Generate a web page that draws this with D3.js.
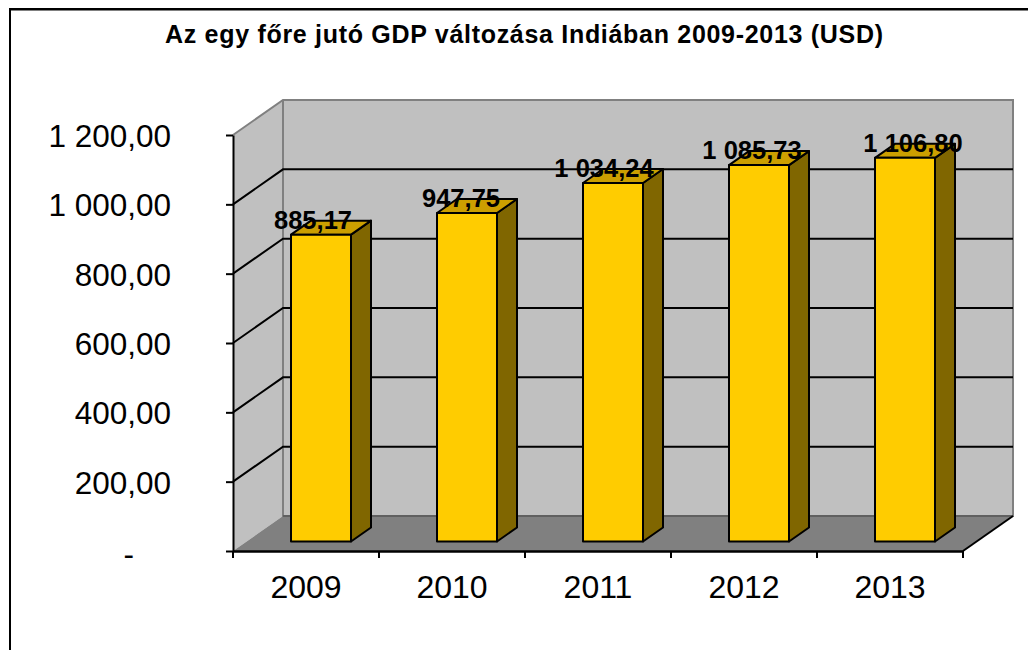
<!DOCTYPE html>
<html>
<head>
<meta charset="utf-8">
<script src="https://cdn.jsdelivr.net/npm/d3@7"></script>
<style>
  html, body { margin: 0; padding: 0; background: #fff; }
  svg { display: block; }
  text { font-family: "Liberation Sans", Arial, sans-serif; fill: #000; }
</style>
</head>
<body>
<svg id="drawing_region" width="1028" height="650"></svg>
<script>
const years = ["2009", "2010", "2011", "2012", "2013"];
const gdp = [885.17, 947.75, 1034.24, 1085.73, 1106.80];
const gdpLabels = ["885,17", "947,75", "1 034,24", "1 085,73", "1 106,80"];
const yTicks = [0, 200, 400, 600, 800, 1000, 1200];
const yTickLabels = ["-", "200,00", "400,00", "600,00", "800,00", "1 000,00", "1 200,00"];
const title = "Az egy főre jutó GDP változása Indiában 2009-2013 (USD)";

// excel puts the data labels a bit off centre, so nudge them by hand
const labelNudge = [-8, -6, -9, -7, 8];

const svg = d3.select("#drawing_region");

const x0 = 233, x1 = 963, y0 = 551, y1 = 135;
const depth = {x: 50, y: -35};
const barDepth = {x: 20, y: -14};
const barShift = {x: 15, y: -9.5};

const xscale = d3.scaleBand().domain(years).range([x0, x1]);
const yscale = d3.scaleLinear().domain([0, 1200]).range([y0, y1]);
const barWidth = 60;
const barX = d => xscale(d) + (xscale.bandwidth() - barWidth) / 2 + barShift.x;
const barY = v => yscale(v) + barShift.y;

const poly = pts => pts.map(p => p.join(",")).join(" ");

// chart frame, the right side is cut off in the original
svg.append("path")
  .attr("d", "M10,650V9H1028")
  .attr("fill", "none").attr("stroke", "#000").attr("stroke-width", 2);
svg.append("line")
  .attr("x1", 11).attr("x2", 1028).attr("y1", 10.5).attr("y2", 10.5)
  .attr("stroke", "#808080").attr("stroke-width", 1);

svg.append("text")
  .attr("x", 524).attr("y", 43)
  .attr("text-anchor", "middle")
  .attr("font-size", 25).attr("font-weight", "bold")
  .attr("textLength", 718).attr("lengthAdjust", "spacing")
  .text(title);

// walls and floor
const walls = svg.append("g");
walls.append("polygon")
  .attr("points", poly([[x0, y0], [x0, y1], [x0 + depth.x, y1 + depth.y], [x0 + depth.x, y0 + depth.y]]))
  .attr("fill", "#c0c0c0");
walls.append("polygon")
  .attr("points", poly([[x0 + depth.x, y1 + depth.y], [x1 + depth.x, y1 + depth.y], [x1 + depth.x, y0 + depth.y], [x0 + depth.x, y0 + depth.y]]))
  .attr("fill", "#c0c0c0");
walls.append("polygon")
  .attr("points", poly([[x0, y0], [x0 + depth.x, y0 + depth.y], [x1 + depth.x, y0 + depth.y], [x1, y0]]))
  .attr("fill", "#808080");

// wall outline
walls.append("path")
  .attr("d", `M${x0},${y1}L${x0 + depth.x},${y1 + depth.y}H${x1 + depth.x}V${y0 + depth.y}H${x0 + depth.x}V${y1 + depth.y}`)
  .attr("fill", "none").attr("stroke", "#808080").attr("stroke-width", 2);
walls.append("line")
  .attr("x1", x0 + depth.x).attr("x2", x1 + depth.x)
  .attr("y1", y0 + depth.y).attr("y2", y0 + depth.y)
  .attr("stroke", "#606060").attr("stroke-width", 2);

// gridlines run along the back wall and down the side wall
svg.append("g").selectAll("path")
  .data(yTicks.slice(1, -1))
  .join("path")
  .attr("d", d => `M${x0},${yscale(d)}L${x0 + depth.x},${yscale(d) + depth.y}H${x1 + depth.x}`)
  .attr("fill", "none").attr("stroke", "#000").attr("stroke-width", 2);

// axes
const yaxis = d3.axisLeft(yscale).tickValues(yTicks).tickSize(7).tickSizeOuter(0)
  .tickFormat((d, i) => yTickLabels[i]).tickPadding(55);
const yaxis_group = svg.append("g").attr("transform", `translate(${x0},0)`).call(yaxis);
yaxis_group.selectAll("text")
  .attr("font-size", 31.5).attr("dy", "0.36em")
  .style("font-family", '"Liberation Sans", Arial, sans-serif');
// the number format pads the zero label, so the dash does not line up on the right
yaxis_group.selectAll("text").filter(d => d === 0)
  .attr("dx", -37).attr("dy", "0.42em");
yaxis_group.selectAll("line,path").attr("stroke", "#000").attr("stroke-width", 2);

const xaxis = d3.axisBottom(xscale).tickSize(0).tickPadding(24);
const xaxis_group = svg.append("g").attr("transform", `translate(0,${y0})`).call(xaxis);
xaxis_group.selectAll("text").attr("font-size", 32).style("font-family", '"Liberation Sans", Arial, sans-serif');
xaxis_group.selectAll("path").attr("stroke", "#000").attr("stroke-width", 2.5);

// category ticks sit between the bands
svg.append("g").selectAll("line")
  .data(years.map(d => xscale(d)).concat([x1]))
  .join("line")
  .attr("x1", d => d).attr("x2", d => d)
  .attr("y1", y0).attr("y2", y0 + 7)
  .attr("stroke", "#000").attr("stroke-width", 2);

// right edge of the floor
svg.append("line")
  .attr("x1", x1).attr("y1", y0)
  .attr("x2", x1 + depth.x).attr("y2", y0 + depth.y)
  .attr("stroke", "#000").attr("stroke-width", 2);

// 3d bars
const bars = svg.append("g").selectAll("g")
  .data(years.map((d, i) => ({year: d, value: gdp[i], label: gdpLabels[i], nudge: labelNudge[i]})))
  .join("g")
  .attr("stroke", "#000").attr("stroke-width", 2).attr("stroke-linejoin", "round");

bars.append("polygon") // right side
  .attr("fill", "#806600")
  .attr("points", d => {
    const r = barX(d.year) + barWidth, t = barY(d.value), b = barY(0);
    return poly([[r, t], [r + barDepth.x, t + barDepth.y], [r + barDepth.x, b + barDepth.y], [r, b]]);
  });
bars.append("polygon") // top
  .attr("fill", "#cc9f00")
  .attr("points", d => {
    const l = barX(d.year), t = barY(d.value);
    return poly([[l, t], [l + barDepth.x, t + barDepth.y], [l + barWidth + barDepth.x, t + barDepth.y], [l + barWidth, t]]);
  });
bars.append("rect") // front
  .attr("fill", "#ffcc00")
  .attr("x", d => barX(d.year))
  .attr("y", d => barY(d.value))
  .attr("width", barWidth)
  .attr("height", d => barY(0) - barY(d.value));

bars.append("text")
  .attr("x", d => barX(d.year) + barWidth / 2 + d.nudge)
  .attr("y", d => barY(d.value) - 6)
  .attr("text-anchor", "middle")
  .attr("stroke", "none")
  .attr("font-size", 25.5).attr("font-weight", "bold")
  .text(d => d.label);
</script>
</body>
</html>
